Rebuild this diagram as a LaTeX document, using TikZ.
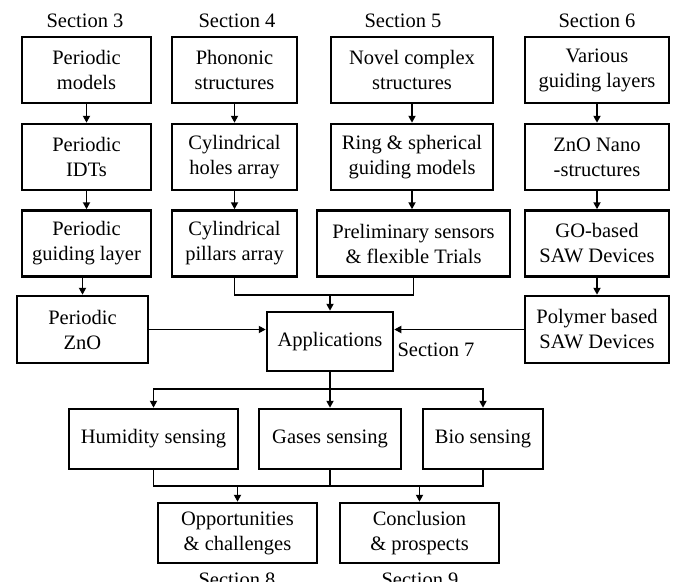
\documentclass[tikz,border=0pt]{standalone}
\usepackage{fontspec}
\setmainfont{Liberation Serif}
\usetikzlibrary{arrows.meta}
\begin{document}
\begin{tikzpicture}[x=1pt,y=-1pt,
  every node/.style={font=\fontsize{20.5}{25}\selectfont},
  box/.style={draw, line width=2.5pt, align=center, inner sep=0pt, minimum height=66pt},
  conn/.style={line width=1.8pt},
  arr/.style={conn, -{Triangle[length=7pt,width=7pt]}},
  lbl/.style={inner sep=0pt}]
\useasboundingbox[fill=white] (0,0) rectangle (676,581);
% section labels
\node[lbl] (s3) at (85,21) {Section 3};
\node[lbl] (s4) at (237,21) {Section 4};
\node[lbl] (s5) at (403,21) {Section 5};
\node[lbl] (s6) at (597,21) {Section 6};
% column 1
\node[box, minimum width=129pt] (p1) at (86.5,70) {Periodic\\models};
\node[box, minimum width=129pt] (p2) at (86.5,157) {Periodic\\IDTs};
\node[box, minimum width=129pt] (p3) at (86.5,243.5) {Periodic\\guiding layer};
\node[box, minimum width=131pt, minimum height=67pt] (p4) at (82.5,329.5) {Periodic\\ZnO};
% column 2
\node[box, minimum width=125pt] (q1) at (234.5,70) {Phononic\\structures};
\node[box, minimum width=125pt] (q2) at (234.5,157) {Cylindrical\\holes array};
\node[box, minimum width=125pt] (q3) at (234.5,243.5) {Cylindrical\\pillars array};
% column 3
\node[box, minimum width=162pt] (r1) at (412,70) {Novel complex\\structures};
\node[box, minimum width=162pt] (r2) at (412,157) {Ring \& spherical\\guiding models};
\node[box, minimum width=193pt] (r3) at (413.5,243.5) {Preliminary sensors\\\& flexible Trials};
% column 4
\node[box, minimum width=144pt] (t1) at (597,70) {Various\\guiding layers};
\node[box, minimum width=144pt] (t2) at (597,157) {ZnO Nano\\-structures};
\node[box, minimum width=144pt] (t3) at (597,243.5) {GO-based\\SAW Devices};
\node[box, minimum width=144pt, minimum height=67pt] (t4) at (597,329.5) {Polymer based\\SAW Devices};
% applications
\node[box, minimum width=126pt, minimum height=59pt] (app) at (330,341.5) {Applications};
\node[lbl] (s7) at (436,350) {Section 7};
% sensing
\node[box, minimum width=169pt, minimum height=60pt] (hum) at (153.5,439) {Humidity sensing};
\node[box, minimum width=142pt, minimum height=60pt] (gas) at (330,439) {Gases sensing};
\node[box, minimum width=120pt, minimum height=60pt] (bio) at (483,439) {Bio sensing};
% final
\node[box, minimum width=159pt, minimum height=60pt] (opp) at (237.5,533) {Opportunities\\\& challenges};
\node[box, minimum width=159pt, minimum height=60pt] (con) at (419.5,533) {Conclusion\\\& prospects};
\node[lbl] (s8) at (237,580) {Section 8};
\node[lbl] (s9) at (420,580) {Section 9};
% connectors
\draw[arr] (p1) -- (p2);
\draw[arr] (p2) -- (p3);
\draw[arr] (p3.south -| p4.north) -- (p4.north);
\draw[arr] (q1) -- (q2);
\draw[arr] (q2) -- (q3);
\draw[arr] (r1) -- (r2);
\draw[arr] (r2) -- (r3.north -| r2.south);
\draw[arr] (t1) -- (t2);
\draw[arr] (t2) -- (t3);
\draw[arr] (t3) -- (t4);
\coordinate (m1) at (330,295);
\draw[conn] (q3.south) |- (m1);
\draw[conn] (r3.south) |- (m1);
\draw[arr] (m1) -- (app.north);
\draw[arr] (p4.east) -- (app.west |- p4.east);
\draw[arr] (t4.west) -- (app.east |- t4.west);
\coordinate (b1) at (330,389);
\draw[conn] (app.south) -- (b1);
\draw[arr] (b1) -| (hum.north);
\draw[arr] (b1) -| (bio.north);
\draw[arr] (b1) -- (gas.north);
\coordinate (b2) at (330,486);
\draw[conn] (hum.south) |- (b2) -| (bio.south);
\draw[conn] (gas.south) -- (b2);
\draw[arr] (opp.north |- b2) -- (opp.north);
\draw[arr] (con.north |- b2) -- (con.north);
\end{tikzpicture}
\end{document}
